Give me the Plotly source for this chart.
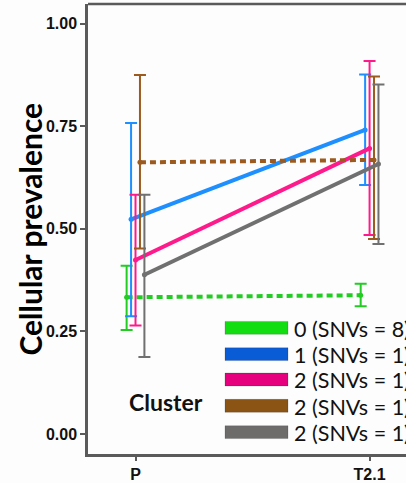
import plotly.graph_objects as go

# ---- data ----
timepoints = ["P", "T2.1"]
clusters = ["0 (SNVs = 8)", "1 (SNVs = 1)", "2 (SNVs = 1)", "2 (SNVs = 1)", "2 (SNVs = 1)"]
mean_vals = [[0.333, 0.338], [0.523, 0.741], [0.424, 0.696], [0.662, 0.668], [0.388, 0.658]]
upper_vals = [[0.410, 0.366], [0.758, 0.876], [0.583, 0.909], [0.875, 0.871], [0.583, 0.852]]
lower_vals = [[0.253, 0.311], [0.287, 0.607], [0.264, 0.485], [0.452, 0.475], [0.1875, 0.463]]
y_ticks = [0.0, 0.25, 0.5, 0.75, 1.0]

# ---- styles ----
line_colors = ["#22CC22", "#1E8FFF", "#FF1A8C", "#9C5A1E", "#707070"]
legend_colors = ["#11DD11", "#0A5BD6", "#E6007E", "#8B5414", "#6E6B6B"]
dashes = ["6px,4px", "solid", "solid", "6px,4px", "solid"]

W, H = 406, 483
ML, MR, MT, MB = 88, 0, 4, 26
PW, PH = W - ML - MR, H - MT - MB

def px(x):
    return (x - ML) / PW

def py(y):
    return (H - MB - y) / PH

fig = go.Figure()
xpos = [1, 2]
for i, name in enumerate(clusters):
    off = (i - 2) * 0.019
    xs = [v + off for v in xpos]
    m = mean_vals[i]
    plus = [u - v for u, v in zip(upper_vals[i], m)]
    minus = [v - l for l, v in zip(lower_vals[i], m)]
    fig.add_trace(go.Scatter(
        x=xs, y=m, mode="lines+markers", name=name,
        line=dict(color=line_colors[i], width=4, dash=dashes[i]),
        marker=dict(size=5, color=line_colors[i]),
        error_y=dict(type="data", symmetric=False, array=plus, arrayminus=minus,
                     color=line_colors[i], thickness=2, width=6),
        showlegend=False,
    ))

shapes = [dict(type="line", xref="paper", yref="paper", x0=0, x1=1, y0=1, y1=1,
               line=dict(color="#5A5A5A", width=2.5))]
annotations = []
row_y = [330, 356.5, 382, 408.5, 435]
for i, name in enumerate(clusters):
    yc = row_y[i]
    shapes.append(dict(type="rect", xref="paper", yref="paper",
                       x0=px(225), x1=px(288), y0=py(yc + 6.5), y1=py(yc - 6.5),
                       fillcolor=legend_colors[i], line=dict(color="rgba(0,0,0,0.15)", width=1)))
    annotations.append(dict(xref="paper", yref="paper", x=px(292), y=py(yc + 1),
                            text=name, showarrow=False, xanchor="left", yanchor="middle",
                            font=dict(family="Lato", size=21.5, color="#111")))
annotations.append(dict(xref="paper", yref="paper", x=px(166), y=py(405),
                        text="<b>Cluster</b>", showarrow=False, xanchor="center", yanchor="middle",
                        font=dict(family="Lato", size=23, color="#111")))
annotations.append(dict(xref="paper", yref="paper", x=-ML / PW + 30 / PW, y=py(231),
                        text="<b>Cellular prevalence</b>", showarrow=False, textangle=-90,
                        xanchor="center", yanchor="middle",
                        font=dict(family="Lato", size=30, color="#000")))

fig.update_layout(
    width=W, height=H,
    margin=dict(l=ML, r=MR, t=MT, b=MB),
    paper_bgcolor="#FDFDFD", plot_bgcolor="#FDFDFD",
    shapes=shapes, annotations=annotations,
    xaxis=dict(range=[0.797, 1 + (W - 135) / 234.5], tickvals=xpos,
               ticktext=["<b>" + t + "</b>" for t in timepoints],
               showgrid=False, zeroline=False, showline=True, linecolor="#5A5A5A", linewidth=2.5,
               ticks="outside", ticklen=4, tickcolor="#5A5A5A", tickwidth=1.5,
               tickfont=dict(family="Liberation Sans", size=16, color="#111")),
    yaxis=dict(range=[-0.049, 1.048], tickvals=y_ticks,
               ticktext=["<b>%.2f</b>" % v for v in y_ticks],
               showgrid=False, zeroline=False, showline=True, linecolor="#5A5A5A", linewidth=2.5,
               ticks="outside", ticklen=5, tickcolor="#5A5A5A", tickwidth=1.5,
               tickfont=dict(family="Liberation Sans", size=16, color="#111")),
)

fig.write_html("out.html")
